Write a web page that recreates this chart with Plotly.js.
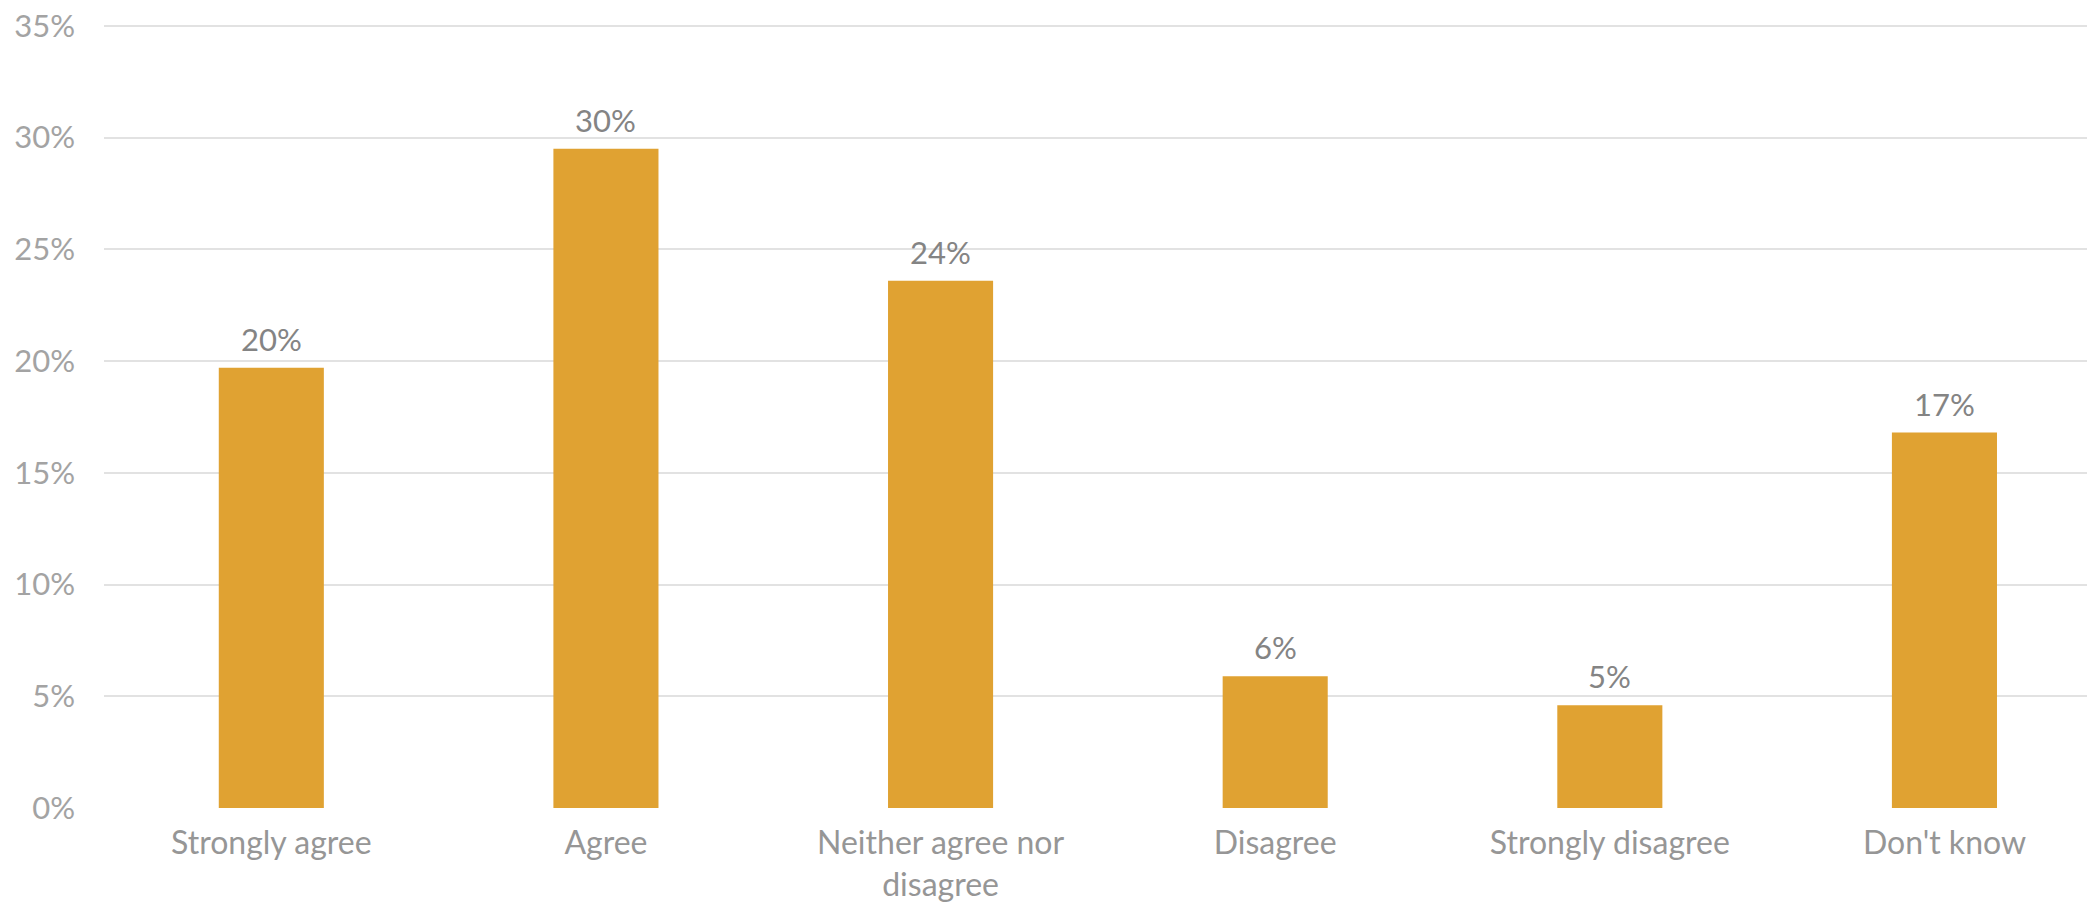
<!DOCTYPE html>
<html>
<head>
<meta charset="utf-8">
<script src="https://cdn.plot.ly/plotly-3.0.1.min.js"></script>
<style>
  html, body { margin: 0; padding: 0; background: #ffffff; }
  #chart { width: 2087px; height: 907px; }
</style>
</head>
<body>
<div id="chart"></div>
<script>
const categories = ["Strongly agree", "Agree", "Neither agree nor<br>disagree", "Disagree", "Strongly disagree", "Don't know"];
const values = [19.7, 29.5, 23.6, 5.9, 4.6, 16.8];
const valueLabels = ["20%", "30%", "24%", "6%", "5%", "17%"];
const yTickValues = [0, 5, 10, 15, 20, 25, 30, 35];
const yTickLabels = ["0%", "5%", "10%", "15%", "20%", "25%", "30%", "35%"];

const fontFamily = "Lato, 'Open Sans', sans-serif";

const trace = {
  type: "bar",
  x: categories,
  y: values,
  marker: { color: "#E0A232" },
  hoverinfo: "skip"
};

const annotations = categories.map((c, i) => ({
  x: c,
  y: values[i],
  xref: "x",
  yref: "y",
  text: valueLabels[i],
  showarrow: false,
  yanchor: "bottom",
  yshift: 8,
  font: { family: fontFamily, size: 31, color: "#848484" }
}));

const yMax = yTickValues[yTickValues.length - 1];

const layout = {
  width: 2087,
  height: 907,
  margin: { l: 104, r: 0, t: 25, b: 99 },
  paper_bgcolor: "#ffffff",
  plot_bgcolor: "#ffffff",
  showlegend: false,
  bargap: 0.686,
  xaxis: {
    type: "category",
    range: [-0.5, 5.426],
    showgrid: false,
    showline: false,
    zeroline: false,
    ticks: "",
    tickangle: 0,
    ticklabelstandoff: 13,
    tickfont: { family: fontFamily, size: 32, color: "#969696" }
  },
  yaxis: {
    range: [0, 35.04],
    tickvals: yTickValues,
    ticktext: yTickLabels,
    showgrid: true,
    gridcolor: "#E2E2E2",
    gridwidth: 2,
    zeroline: false,
    showline: false,
    ticks: "",
    ticklabelstandoff: 28,
    tickfont: { family: fontFamily, size: 31, color: "#A3A3A3" }
  },
  shapes: [{
    type: "line",
    xref: "paper", x0: 0, x1: 1,
    yref: "y", y0: yMax, y1: yMax,
    layer: "below",
    line: { color: "#E2E2E2", width: 2 }
  }],
  annotations: annotations
};

Plotly.newPlot("chart", [trace], layout, { displayModeBar: false, staticPlot: true });
</script>
</body>
</html>
